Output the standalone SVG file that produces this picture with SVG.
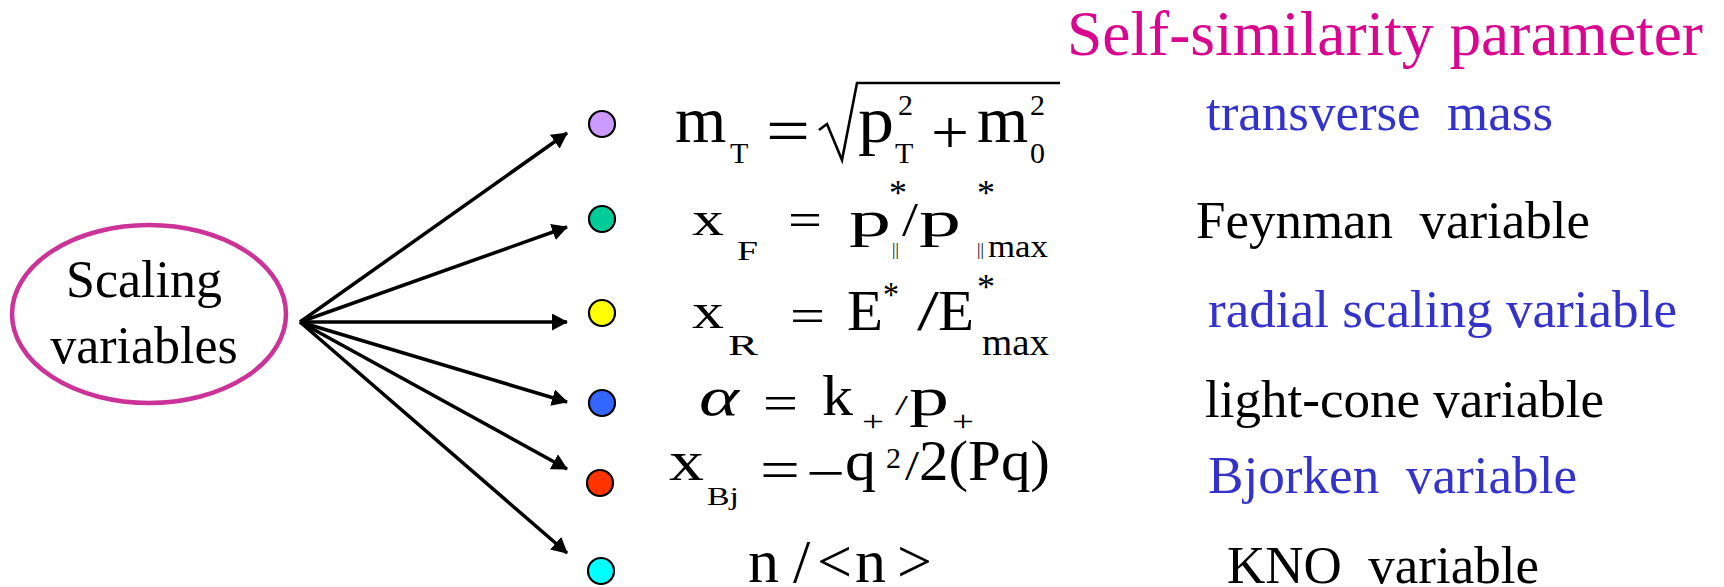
<svg xmlns="http://www.w3.org/2000/svg" width="1724" height="587" viewBox="0 0 1724 587">
<style>
.s{font-family:"Liberation Serif","Times New Roman",serif;fill:#000}
.b{fill:#3333cc}
.k{fill:#000}
.lab{font-family:"Liberation Serif","Times New Roman",serif;font-size:53px;white-space:pre}
.dot{stroke:#000;stroke-width:2.2}
.arr{stroke:#000;stroke-width:3.5;fill:none;marker-end:url(#ah)}
</style>
<defs>
<marker id="ah" markerUnits="userSpaceOnUse" markerWidth="16" markerHeight="17" refX="15" refY="8.5" orient="auto">
<path d="M0,0 L16,8.5 L0,17 z" fill="#000"/>
</marker>
</defs>
<rect width="1724" height="587" fill="#fff"/>

<text id="title" x="1067" y="55" class="s" font-size="64" style="fill:#d9078f" textLength="636" lengthAdjust="spacingAndGlyphs">Self-similarity parameter</text>

<g id="source">
<ellipse cx="149" cy="314" rx="137" ry="89" fill="none" stroke="#cc3399" stroke-width="4.5"/>
<text x="144" y="297" class="s" font-size="52" text-anchor="middle">Scaling</text>
<text x="144" y="363" class="s" font-size="52" text-anchor="middle">variables</text>
</g>

<g id="connectors">
<line class="arr" x1="300" y1="322" x2="567" y2="133"/>
<line class="arr" x1="300" y1="322" x2="567" y2="227"/>
<line class="arr" x1="300" y1="322" x2="567" y2="322"/>
<line class="arr" x1="300" y1="322" x2="567" y2="402"/>
<line class="arr" x1="300" y1="322" x2="567" y2="469"/>
<line class="arr" x1="300" y1="322" x2="567" y2="553"/>
</g>

<g id="mT">
<circle class="dot" cx="602" cy="124" r="13" fill="#cc99ff"/>
<text class="s" x="675" y="142" font-size="66">m</text>
<text class="s" x="730" y="163" font-size="30">T</text>
<text class="s" x="766" y="153" font-size="66" textLength="44" lengthAdjust="spacingAndGlyphs">=</text>
<polyline points="819,130 827,124 842,160 857,83 1060,83" fill="none" stroke="#000" stroke-width="2.6" stroke-linejoin="miter"/>
<text class="s" x="858" y="142" font-size="66" textLength="36" lengthAdjust="spacingAndGlyphs">p</text>
<text class="s" x="898" y="115" font-size="30">2</text>
<text class="s" x="895" y="163" font-size="30">T</text>
<text class="s" x="931" y="153" font-size="62" textLength="38" lengthAdjust="spacingAndGlyphs">+</text>
<text class="s" x="977" y="142" font-size="66">m</text>
<text class="s" x="1030" y="115" font-size="30">2</text>
<text class="s" x="1030" y="163" font-size="30">0</text>
<text class="lab b" x="1206" y="130" textLength="347" lengthAdjust="spacingAndGlyphs">transverse  mass</text>
</g>

<g id="xF">
<circle class="dot" cx="602" cy="219" r="13" fill="#00cc99"/>
<text class="s" x="692" y="235" font-size="48" textLength="32" lengthAdjust="spacingAndGlyphs">x</text>
<text class="s" x="737" y="260" font-size="27" textLength="21" lengthAdjust="spacingAndGlyphs">F</text>
<text class="s" x="788" y="236" font-size="48" textLength="34" lengthAdjust="spacingAndGlyphs">=</text>
<text class="s" x="849" y="236" font-size="50" textLength="42" lengthAdjust="spacingAndGlyphs">p</text>
<text class="s" x="889" y="205" font-size="36" textLength="18" lengthAdjust="spacingAndGlyphs">*</text>
<text class="s" x="892" y="255" font-size="17">||</text>
<text class="s" x="902" y="236" font-size="48" textLength="16" lengthAdjust="spacingAndGlyphs">/</text>
<text class="s" x="919" y="236" font-size="50" textLength="42" lengthAdjust="spacingAndGlyphs">p</text>
<text class="s" x="977" y="205" font-size="36" textLength="18" lengthAdjust="spacingAndGlyphs">*</text>
<text class="s" x="977" y="255" font-size="17">||</text>
<text class="s" x="988" y="257" font-size="31" textLength="60" lengthAdjust="spacingAndGlyphs">max</text>
<text class="lab k" x="1196" y="238" textLength="394" lengthAdjust="spacingAndGlyphs">Feynman  variable</text>
</g>

<g id="xR">
<circle class="dot" cx="602" cy="313" r="13" fill="#ffff00"/>
<text class="s" x="692" y="328" font-size="50" textLength="32" lengthAdjust="spacingAndGlyphs">x</text>
<text class="s" x="728" y="355" font-size="30" textLength="30" lengthAdjust="spacingAndGlyphs">R</text>
<text class="s" x="790" y="332" font-size="48" textLength="35" lengthAdjust="spacingAndGlyphs">=</text>
<text class="s" x="847" y="330" font-size="56" textLength="36" lengthAdjust="spacingAndGlyphs">E</text>
<text class="s" x="883" y="307" font-size="36" textLength="16" lengthAdjust="spacingAndGlyphs">*</text>
<text class="s" x="917" y="330" font-size="56" textLength="22" lengthAdjust="spacingAndGlyphs">/</text>
<text class="s" x="938" y="330" font-size="56" textLength="36" lengthAdjust="spacingAndGlyphs">E</text>
<text class="s" x="977" y="299" font-size="36" textLength="18" lengthAdjust="spacingAndGlyphs">*</text>
<text class="s" x="982" y="355" font-size="38" textLength="67" lengthAdjust="spacingAndGlyphs">max</text>
<text class="lab b" x="1208" y="327" textLength="469" lengthAdjust="spacingAndGlyphs">radial scaling variable</text>
</g>

<g id="alpha">
<circle class="dot" cx="602" cy="403" r="13" fill="#3366ff"/>
<text class="s" x="699" y="415" font-size="54" font-style="italic" textLength="40" lengthAdjust="spacingAndGlyphs">α</text>
<text class="s" x="763" y="420" font-size="50" textLength="35" lengthAdjust="spacingAndGlyphs">=</text>
<text class="s" x="822" y="415" font-size="56" textLength="31" lengthAdjust="spacingAndGlyphs">k</text>
<text class="s" x="862" y="431" font-size="30" textLength="22" lengthAdjust="spacingAndGlyphs">+</text>
<text class="s" x="895" y="415" font-size="30" textLength="13" lengthAdjust="spacingAndGlyphs">/</text>
<text class="s" x="909" y="415" font-size="54" textLength="40" lengthAdjust="spacingAndGlyphs">p</text>
<text class="s" x="952" y="431" font-size="30" textLength="22" lengthAdjust="spacingAndGlyphs">+</text>
<text class="lab k" x="1205" y="417" textLength="399" lengthAdjust="spacingAndGlyphs">light-cone variable</text>
</g>

<g id="xBj">
<circle class="dot" cx="600" cy="483" r="13" fill="#ff3300"/>
<text class="s" x="669" y="480" font-size="56" textLength="35" lengthAdjust="spacingAndGlyphs">x</text>
<text class="s" x="707" y="505" font-size="26" textLength="32" lengthAdjust="spacingAndGlyphs">Bj</text>
<text class="s" x="760" y="489" font-size="56" textLength="40" lengthAdjust="spacingAndGlyphs">=</text>
<text class="s" x="806" y="492" font-size="56" textLength="39" lengthAdjust="spacingAndGlyphs">−</text>
<text class="s" x="845" y="480" font-size="56" textLength="31" lengthAdjust="spacingAndGlyphs">q</text>
<text class="s" x="886" y="468" font-size="30" textLength="15" lengthAdjust="spacingAndGlyphs">2</text>
<text class="s" x="905" y="480" font-size="43" textLength="14" lengthAdjust="spacingAndGlyphs">/</text>
<text class="s" x="919" y="480" font-size="56" textLength="131" lengthAdjust="spacingAndGlyphs">2(Pq)</text>
<text class="lab b" x="1208" y="493" textLength="369" lengthAdjust="spacingAndGlyphs">Bjorken  variable</text>
</g>

<g id="kno">
<circle class="dot" cx="601" cy="571" r="13" fill="#00ffff"/>
<text class="s" x="748 780 793 817 855 897" y="582" font-size="62">n /&lt;n&gt;</text>
<text class="lab k" x="1227" y="583" textLength="312" lengthAdjust="spacingAndGlyphs">KNO  variable</text>
</g>
</svg>
